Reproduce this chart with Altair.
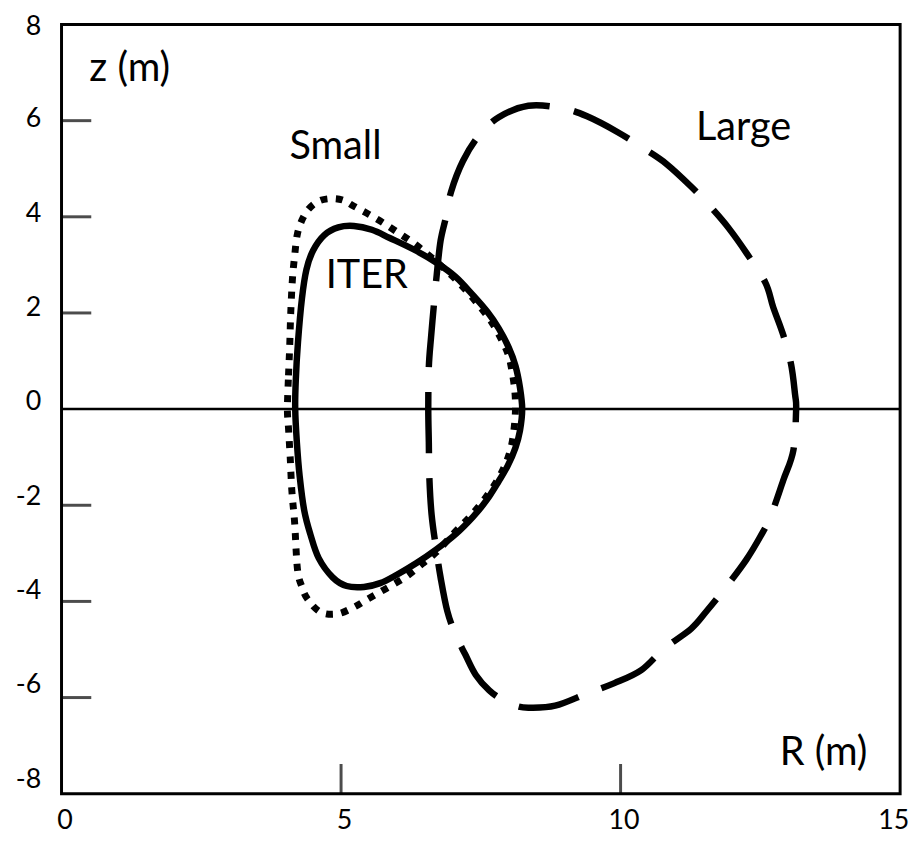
import altair as alt
import pandas as pd

# ITER (solid)
ITER_R = [4.18, 4.19, 4.23, 4.30, 4.38, 4.50, 4.70, 4.95, 5.23, 5.55, 5.87, 6.30, 6.70, 7.05, 7.36, 7.62,
          7.82, 8.00, 8.12, 8.20, 8.24, 8.20, 8.12, 7.98, 7.82, 7.60, 7.36, 7.05, 6.70, 6.35, 5.99, 5.70,
          5.41, 5.10, 4.85, 4.60, 4.45, 4.34, 4.26, 4.21]
ITER_Z = [0.0, 0.6, 1.4, 2.3, 2.9, 3.3, 3.62, 3.78, 3.81, 3.73, 3.56, 3.32, 3.05, 2.75, 2.37, 2.02,
          1.68, 1.28, 0.9, 0.45, 0.0, -0.45, -0.8, -1.18, -1.5, -1.9, -2.24, -2.6, -2.92, -3.2, -3.45, -3.62,
          -3.70, -3.68, -3.5, -3.1, -2.6, -2.1, -1.4, -0.7]

# Small (dotted)
SMALL_R = [4.04, 4.06, 4.08, 4.10, 4.13, 4.17, 4.22, 4.32, 4.45, 4.63, 4.85, 5.05, 5.23, 5.50, 5.76, 6.02,
           6.29, 6.55, 6.80, 7.05, 7.29, 7.52, 7.71, 7.88, 8.00, 8.07, 8.11, 8.12, 8.10, 8.05, 7.95, 7.80,
           7.58, 7.32, 7.02, 6.70, 6.45, 6.17, 5.93, 5.69, 5.45, 5.23, 4.93, 4.63, 4.40, 4.30, 4.22, 4.17,
           4.12, 4.09, 4.06]
SMALL_Z = [0.0, 0.7, 1.26, 2.0, 2.7, 3.19, 3.65, 3.98, 4.2, 4.34, 4.38, 4.34, 4.22, 4.05, 3.87, 3.67,
           3.46, 3.22, 2.97, 2.70, 2.40, 2.08, 1.78, 1.42, 1.10, 0.7, 0.35, 0.0, -0.35, -0.75, -1.12, -1.47,
           -1.85, -2.22, -2.58, -2.98, -3.22, -3.48, -3.65, -3.81, -3.97, -4.12, -4.26, -4.22, -3.95, -3.7, -3.33, -2.37,
           -1.7, -1.0, -0.4]

# Large (dashed)
LARGE_R = [6.56, 6.57, 6.61, 6.66, 6.71, 6.78, 6.88, 6.97, 7.18, 7.46, 7.82, 8.35, 8.95, 9.40, 9.95, 10.43,
           10.82, 11.26, 11.63, 11.93, 12.25, 12.59, 12.73, 12.91, 13.05, 13.12, 13.14, 13.09, 12.91, 12.68, 12.50, 12.25,
           11.90, 11.54, 11.26, 10.78, 10.37, 9.89, 9.41, 8.83, 8.35, 8.12, 7.89, 7.65, 7.41, 7.22, 7.05, 6.90,
           6.78, 6.70, 6.62, 6.58, 6.57]
LARGE_Z = [0.0, 0.88, 1.5, 2.16, 2.78, 3.5, 4.01, 4.53, 5.16, 5.68, 6.07, 6.31, 6.26, 6.09, 5.76, 5.41,
           5.10, 4.63, 4.18, 3.77, 3.25, 2.63, 2.12, 1.54, 0.93, 0.31, 0.0, -0.86, -1.48, -2.24, -2.65, -3.13,
           -3.68, -4.20, -4.57, -4.98, -5.43, -5.70, -5.91, -6.17, -6.21, -6.17, -6.05, -5.85, -5.53, -5.1, -4.7, -4.2,
           -3.5, -2.9, -2.2, -1.44, -0.7]

# Annotations
LABELS = ["z (m)", "Small", "ITER", "Large", "R (m)"]
LABEL_R = [1.22, 4.9, 5.46, 12.2, 13.63]
LABEL_Z = [7.08, 5.45, 2.76, 5.84, -7.16]

X_TICKS = [0, 5, 10, 15]
Y_TICKS = [-8, -6, -4, -2, 0, 2, 4, 6, 8]
X_INNER_TICKS = [5, 10]
Y_INNER_TICKS = [-6, -4, -2, 2, 4, 6]

FONT = "Lato"
xs = alt.Scale(domain=[0, 15], nice=False, zero=False)
ys = alt.Scale(domain=[-8, 8], nice=False, zero=False)


def frame(r, z):
    return pd.DataFrame({"R": r, "z": z, "i": list(range(len(r)))})


x_axis = alt.Axis(values=X_TICKS, ticks=False, domain=False, grid=False, labelFontSize=27,
                  labelFont=FONT, labelColor="black", labelPadding=14, labelFlush=False, labelOverlap=False,
                  labelExpr="'' + datum.value",
                  labelOffset=alt.ExprRef(expr="datum.value == 15 ? -7 : 3"))
y_axis = alt.Axis(values=Y_TICKS, ticks=False, domain=False, grid=False, labelFontSize=27,
                  labelFont=FONT, labelColor="black", labelPadding=21, labelOverlap=False,
                  labelExpr="'' + datum.value",
                  labelOffset=alt.ExprRef(expr="datum.value == 8 ? 2 : (8 - datum.value) * -0.9"))


def X(field):
    return alt.X(field, scale=xs, axis=x_axis, title=None)


def Y(field):
    return alt.Y(field, scale=ys, axis=y_axis, title=None)


def curve(df, dash, width=6.5):
    kw = {"strokeDash": dash} if dash else {}
    return alt.Chart(df).mark_line(color="black", strokeWidth=width, interpolate="cardinal-closed",
                                   strokeCap="butt", **kw).encode(
        x=X("R:Q"), y=Y("z:Q"), order=alt.Order("i:Q"),
    )


iter_line = curve(frame(ITER_R, ITER_Z), None)
small_line = curve(frame(SMALL_R, SMALL_Z), [7, 8.5], width=7)
large_line = curve(frame(LARGE_R, LARGE_Z), [62, 25])

zero_line = alt.Chart(pd.DataFrame({"z": [0]})).mark_rule(color="black", strokeWidth=2.5).encode(
    y=Y("z:Q")
)

xt = alt.Chart(pd.DataFrame({"R": X_INNER_TICKS, "z": [-8] * len(X_INNER_TICKS)})).mark_tick(
    orient="vertical", size=30, thickness=3, color="black", yOffset=-15
).encode(x=X("R:Q"), y=Y("z:Q"))

yt = alt.Chart(pd.DataFrame({"z": Y_INNER_TICKS, "R": [0] * len(Y_INNER_TICKS)})).mark_tick(
    orient="horizontal", size=30, thickness=3, color="black", xOffset=15
).encode(y=Y("z:Q"), x=X("R:Q"))

text = alt.Chart(pd.DataFrame({"t": LABELS, "R": LABEL_R, "z": LABEL_Z})).mark_text(
    font=FONT, fontSize=40, color="black", align="center", baseline="middle"
).encode(x=X("R:Q"), y=Y("z:Q"), text="t:N")

chart = alt.layer(iter_line, small_line, large_line, zero_line, xt, yt, text).properties(
    width=846,
    height=776,
    autosize=alt.AutoSizeParams(type="none"),
    padding={"left": 54, "top": 13, "right": 14, "bottom": 38},
    background="white",
).configure_view(stroke="black", strokeWidth=3)

chart.save("out.html", embed_options={"renderer": "svg", "actions": False})
